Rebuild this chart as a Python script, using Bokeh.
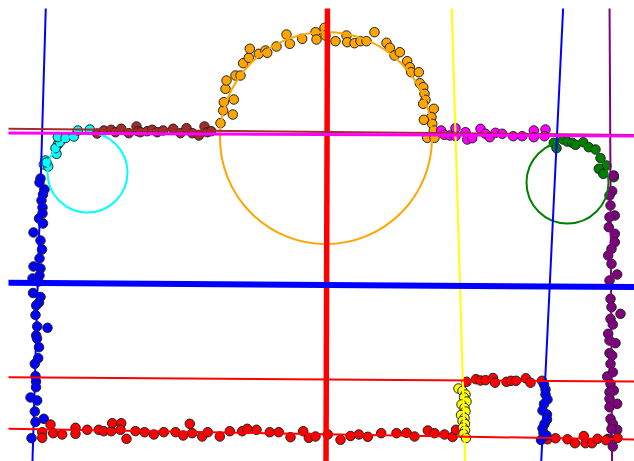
from bokeh.plotting import figure
from bokeh.models import Range1d
from bokeh.embed import file_html
from bokeh.resources import INLINE

# ---- detected point clusters (image coordinates, y grows downward) ----
blue_left_x = [40, 39, 44, 42.5, 41, 42, 42, 38.5, 42.5, 33, 40, 41.5, 39, 33, 40, 39, 32, 38,
               32.5, 40, 38.5, 35.7, 35, 36.7, 47, 35.7, 36.5, 38.5, 37.7, 34.3, 35, 35.5, 35.5,
               30, 36.7, 34.3, 35, 43.3, 31]
blue_left_y = [178, 182, 189, 194, 200, 207, 213, 218, 223, 232, 240, 249, 258, 266, 268, 275, 278, 281,
               292.5, 296.5, 302, 305, 314.5, 326, 327.3, 335, 338, 346.7, 357.7, 363.3, 375.7, 381, 386.7,
               397, 400, 411, 421.5, 418.3, 437.7]

cyan_x = [43.3, 47.7, 45, 46, 56, 57.3, 55, 59.3, 57.3, 65, 73.3, 77.3, 89.3]
cyan_y = [164, 166, 160, 162, 153.3, 144, 147.7, 141.7, 136.5, 137.5, 136, 130, 129]

brown_x = [96.7, 103.3, 110.7, 115, 120.7, 128.3, 136, 137.3, 140, 146.7, 151.7, 156.7, 162.7,
           172.7, 180, 186, 191.7, 198.3, 204, 206.7, 210.7]
brown_y = [133, 130, 129.3, 131.7, 128.3, 132.7, 126, 130.7, 131.7, 130.7, 129.3, 131.7, 130,
           128.3, 132.7, 127.7, 132.7, 135, 126, 131.7, 130.7]

orange_x = [220, 222.7, 223.3, 232.3, 233.3, 225, 226, 235, 240, 242.7, 248.3, 249.3, 258.3, 265,
            266.7, 276, 286, 289.3, 301.7, 315, 316, 324, 325, 335, 346, 346.7, 354, 360, 366, 374,
            386, 389.3, 394, 399.3, 406.7, 409.3, 410.7, 418.3, 419.3, 422.7, 424, 425, 422.7, 433.3,
            431, 423.3, 431.7, 433.3, 426.7, 434]
orange_y = [122.7, 110, 101.7, 114, 99, 88.3, 80, 75, 75, 62.7, 57.3, 48.3, 53.3, 50,
            52.3, 46, 34, 43.3, 38.3, 31.7, 39, 27.3, 35, 40.7, 35, 41.7, 42.7, 40.7, 40.7, 31.7,
            42.3, 47.3, 55, 51.7, 60.7, 66.7, 71.7, 71.7, 82.7, 86.7, 93.3, 99.3, 103.3, 108.3,
            116.7, 119.3, 123.3, 130, 137.3, 137.3]

magenta_x = [440.7, 444, 449.3, 455, 455, 465, 466.7, 471.7, 480, 485, 489.3, 495, 501.7, 512.7,
             521.7, 533.3, 533.3, 545, 544]
magenta_y = [130, 134.3, 135, 127.7, 135.7, 131.7, 139, 137.7, 128.3, 133.3, 136.7, 132.3, 133.3, 135.7,
             135.7, 130, 136.7, 129, 135.7]

green_x = [553.3, 556, 562.7, 566.7, 571.7, 575, 582.7, 588.3, 595, 600, 606, 598.3, 602.7, 613.3]
green_y = [142.3, 147.7, 139, 141, 142.3, 144.3, 141.7, 146.7, 149, 157.7, 165, 168.3, 173.3, 176.7]

purple_x = [613.3, 611.7, 609, 610, 614.3, 609, 608.3, 614.3, 614.3, 611, 607.7, 611, 616.7, 609,
            610, 620, 611, 610, 612.3, 607.7, 609, 615, 609, 611.7, 610, 612.3, 606.7, 610, 613.3,
            609, 609, 616.7, 609, 610, 612.3, 616.7, 611, 607.7, 612.3]
purple_y = [175, 190.7, 195, 205, 215, 216.7, 226.7, 233.3, 241.7, 248.3, 255, 263.3, 274, 280,
            298.3, 313.3, 306.7, 318.3, 324, 333.3, 340, 342.7, 352.7, 355, 363.3, 371.7, 376, 383.3, 390,
            391.7, 398.3, 403.3, 406.7, 418.3, 423.3, 429.3, 428.3, 438.3, 446]

red_x = [41.7, 50, 52.7, 41.7, 61.7, 75, 75, 86.7, 98.3, 103.3, 110.7, 111.7, 120.7, 120, 126, 135,
         144, 153.3, 163.3, 175, 182.7, 189.3, 191.7, 201.7, 207.3, 219.3, 229.3, 241.7, 246.7, 256,
         269.3, 278.3, 290, 302.7, 308.3, 315, 327.3, 340, 350, 358.3, 367.3, 380.7, 396, 406, 414,
         427.3, 434, 444, 452, 455.5, 547, 555, 567, 574.5, 583.3, 585, 591.5, 597, 605.5, 617,
         466, 475.5, 480, 485, 492.5, 494.5, 506, 510.5, 515.5, 525.3, 530, 541.5]
red_y = [431.7, 424, 432.7, 437.3, 434, 427.3, 433.3, 429.3, 429.3, 430.7, 430.7, 422.7, 422.7, 429.3,
         438.3, 430.7, 431.7, 434, 431.7, 431.7, 435, 423.3, 432.7, 436, 431.7, 436, 430.7, 430.7,
         428.3, 429.3, 431.7, 431.7, 436.7, 430.7, 437.3, 436, 434, 439.3, 435.5, 434, 436.3, 432.7,
         432.7, 432.3, 436, 430, 432.7, 434, 436.5, 429.3, 438.8, 437.8, 438.8, 442.7, 435.5, 442.7,
         442.7, 438.3, 439.7, 437.5, 381.3, 378.7, 380, 379.7, 377.5, 382.2, 381.3, 380.3, 380.3,
         377.8, 382.2, 380.3]

yellow_x = [458, 462, 465, 463.5, 466, 461, 464, 465, 460.5, 464, 462, 464.5, 462.5, 464.5, 463, 465.5]
yellow_y = [388, 390.5, 394, 397, 401, 404, 407.5, 411, 414.5, 417.5, 420.5, 423.5, 427, 430, 433.5, 437.5]

blue_right_x = [543.5, 545, 545, 547, 543.5, 542, 546.5, 546.5, 544, 542, 543, 546, 540.5]
blue_right_y = [384, 389, 394, 399, 403.5, 410, 414, 419, 423.5, 428, 432.5, 435, 439.5]

# ---- fitted lines, each given by two points on it ----
line_x0 = [45.5, 327, 451, 563, 609, 0, 0, 0, 0, 0]
line_y0 = [0, 0, 0, 0, 0, 282.3, 376.8, 428.2, 128.3, 132.4]
line_x1 = [31.7, 325.5, 465, 540.3, 611.6, 640, 640, 640, 640, 640]
line_y1 = [470, 470, 470, 470, 470, 286.5, 381, 439.1, 134.6, 135.5]
line_color = ["blue", "red", "yellow", "blue", "purple", "blue", "red", "red", "brown", "magenta"]
line_width = [2, 5.5, 2, 2, 2, 6, 2, 2, 2, 3]

# ---- fitted circles ----
circle_x = [87, 325.5, 567]
circle_y = [172, 137.5, 182]
circle_r = [40, 106, 41]
circle_color = ["cyan", "orange", "green"]

clusters = [
    (blue_left_x, blue_left_y, "blue"),
    (cyan_x, cyan_y, "cyan"),
    (brown_x, brown_y, "brown"),
    (orange_x, orange_y, "orange"),
    (magenta_x, magenta_y, "magenta"),
    (green_x, green_y, "green"),
    (purple_x, purple_y, "purple"),
    (red_x, red_y, "red"),
    (yellow_x, yellow_y, "yellow"),
    (blue_right_x, blue_right_y, "blue"),
]

p = figure(width=634, height=461, output_backend="svg", toolbar_location=None,
           x_axis_type=None, y_axis_type=None,
           x_range=Range1d(8, 634), y_range=Range1d(461, 8),
           min_border_left=8, min_border_top=8, min_border_right=0, min_border_bottom=0)
p.grid.visible = False
p.outline_line_color = None
p.background_fill_color = "white"
p.border_fill_color = "white"

for xs, ys, c in clusters:
    p.scatter(xs, ys, size=9.5, fill_color=c, line_color="#222222", line_width=1)

p.circle(circle_x, circle_y, radius=circle_r, fill_color=None,
         line_color=circle_color, line_width=2)

for i in range(len(line_x0)):
    p.segment(x0=[line_x0[i]], y0=[line_y0[i]], x1=[line_x1[i]], y1=[line_y1[i]],
              line_color=line_color[i], line_width=line_width[i])

open("out.html", "w").write(file_html(p, INLINE))
